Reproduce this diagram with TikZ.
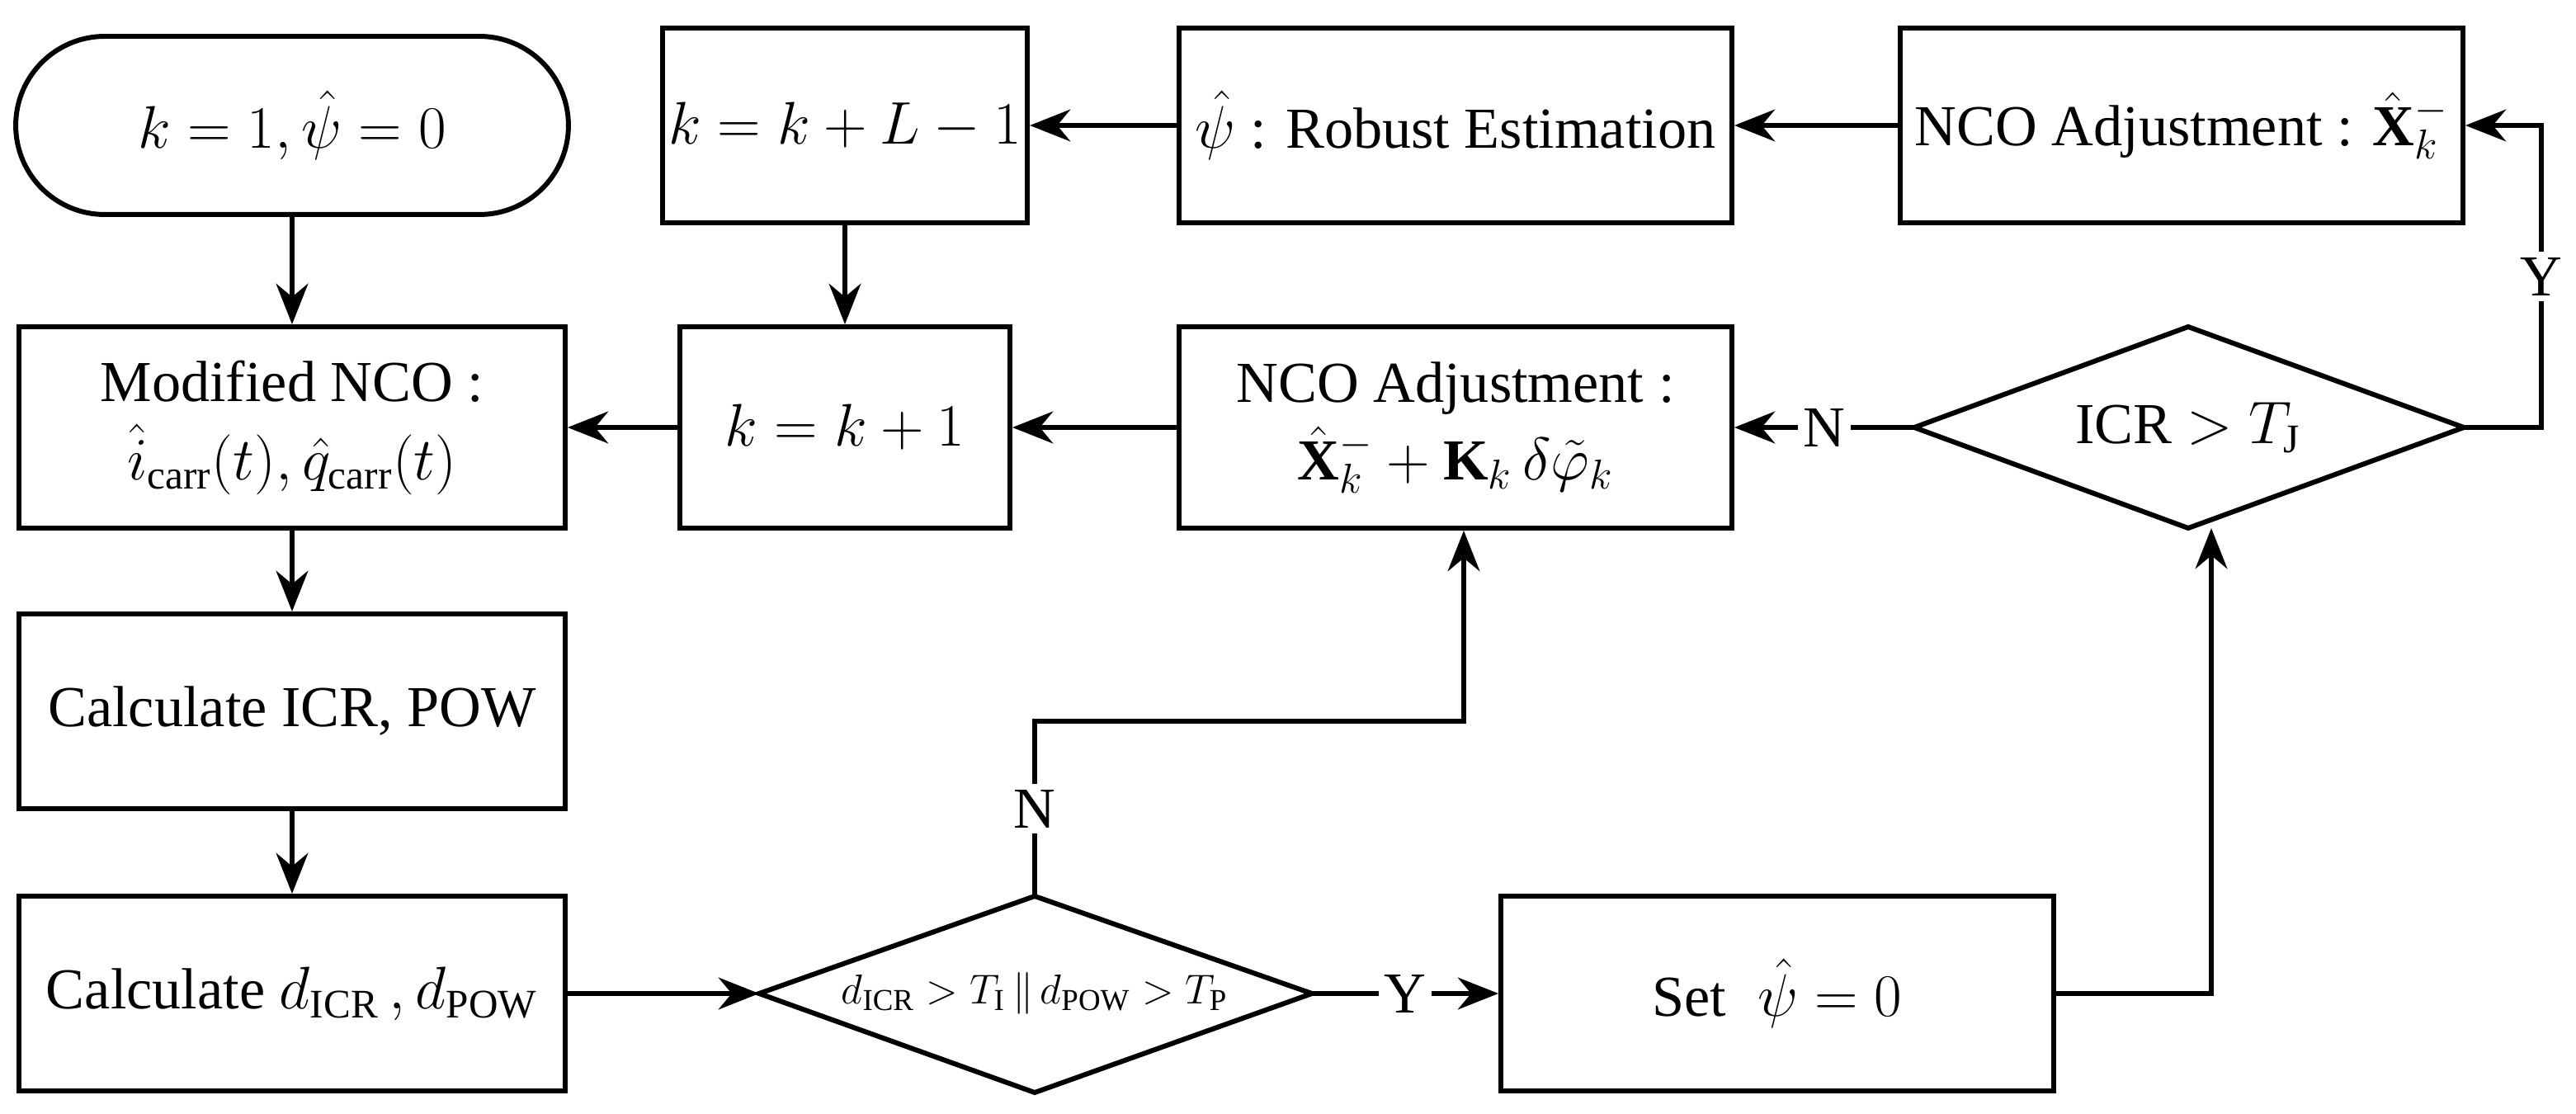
\documentclass[tikz,border=0pt]{standalone}
\usepackage{fontspec}
\setmainfont{Liberation Serif}
\usetikzlibrary{shapes.geometric,arrows.meta}
\begin{document}
\begin{tikzpicture}[x=0.02cm,y=-0.02cm,
 box/.style={draw,line width=1.7pt,rectangle,minimum height=2.36cm,align=center,font=\fontsize{20}{27}\selectfont,inner sep=2pt},
 arr/.style={line width=1.7pt,-{Stealth[length=14pt,width=11pt]}},
 dl/.style={line width=1.7pt},
 lab/.style={font=\fontsize{20}{24}\selectfont,fill=white,inner sep=2pt}]
\useasboundingbox (0,0) rectangle (1561,675);
\node[box,rounded corners=1.08cm,minimum width=6.7cm,minimum height=2.16cm] (start) at (177,76) {$k=1,\hat{\psi}=0$};
\node[box,minimum width=6.62cm,minimum height=2.44cm] (mod) at (177,259) {Modified NCO :\\$\hat{i}_{\mathrm{carr}}(t),\hat{q}_{\mathrm{carr}}(t)$};
\node[box,minimum width=6.62cm] (calc) at (177,431) {Calculate ICR, POW};
\node[box,minimum width=6.62cm] (calcd) at (177,602) {Calculate $d_{\mathrm{ICR}}\,,d_{\mathrm{POW}}$};
% diamond 1
\node[font=\fontsize{15}{18}\selectfont] (d1) at (627,602) {$d_{\mathrm{ICR}}>T_{\mathrm{I}}\,\|\,d_{\mathrm{POW}}>T_{\mathrm{P}}$};
\coordinate (d1w) at (460,602); \coordinate (d1e) at (795,602);
\coordinate (d1n) at (627,543); \coordinate (d1s) at (627,662);
\draw[dl] (d1w) -- (d1n) -- (d1e) -- (d1s) -- cycle;
\node[box,minimum width=6.7cm] (set) at (1077,602) {Set $\;\hat{\psi}=0$};
% diamond 2
\node[font=\fontsize{20}{24}\selectfont] (d2) at (1326,259) {ICR $>T_{\mathrm{J}}$};
\coordinate (d2w) at (1160,259); \coordinate (d2e) at (1493,259);
\coordinate (d2n) at (1326,198); \coordinate (d2s) at (1326,320);
\draw[dl] (d2w) -- (d2n) -- (d2e) -- (d2s) -- cycle;
\node[box,minimum width=6.7cm,minimum height=2.44cm] (nk) at (882,259) {NCO Adjustment :\\$\hat{\mathbf{X}}_k^{-}+\mathbf{K}_k\,\delta\tilde{\varphi}_k$};
\node[box,minimum width=4cm,minimum height=2.44cm] (k1) at (512,259) {$k=k+1$};
\node[box,minimum width=4cm] (kl) at (512,76) {$k=k+L-1$};
\node[box,minimum width=6.7cm] (rob) at (882,76) {$\hat{\psi}$ : Robust Estimation};
\node[box,minimum width=6.82cm] (nx) at (1322,76) {NCO Adjustment : $\hat{\mathbf{X}}_k^{-}$};
\coordinate (c1) at (627,437); \coordinate (c2) at (887,437);
\coordinate (c3) at (1340,602); \coordinate (c4) at (1540,259); \coordinate (c5) at (1540,76);
\draw[arr] (start) -- (mod);
\draw[arr] (mod) -- (calc);
\draw[arr] (calc) -- (calcd);
\draw[arr] (calcd) -- (d1w);
\draw[arr] (d1e) -- node[lab]{Y} (set);
\draw[arr] (set.east) -- (c3) -- (c3|-d2s);
\draw[arr] (d2w) -- node[lab]{N} (nk);
\draw[arr] (d2e) -- (c4) -- node[lab,pos=0.5]{Y} (c5) -- (nx.east);
\draw[arr] (nx) -- (rob);
\draw[arr] (rob) -- (kl);
\draw[arr] (kl) -- (k1);
\draw[arr] (nk) -- (k1);
\draw[arr] (k1) -- (mod);
\draw[arr] (d1n) -- node[lab,pos=0.5]{N} (c1) -- (c2) -- (nk.south-|c2);
\end{tikzpicture}
\end{document}
